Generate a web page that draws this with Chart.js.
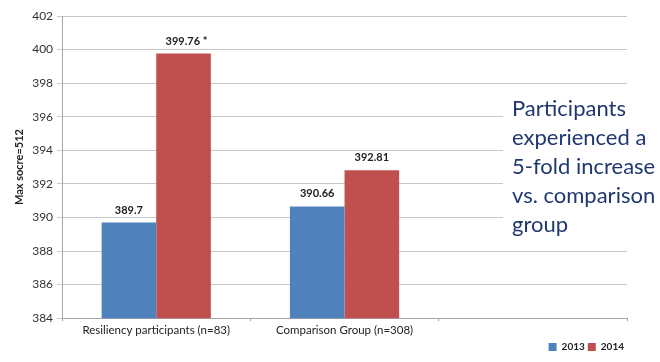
<!DOCTYPE html>
<html>
<head>
<meta charset="utf-8">
<script src="https://cdn.jsdelivr.net/npm/chart.js@4"></script>
<style>
  html, body { margin: 0; padding: 0; background: #fff; }
  #wrap { width: 660px; height: 362px; position: relative; }
</style>
</head>
<body>
<div id="wrap"><canvas id="scoreChart"></canvas></div>
<script>
// =============== DATA ===============
const categories = ['Resiliency participants (n=83)', 'Comparison Group (n=308)', ''];
const values2013 = [389.7, 390.66, null];
const values2014 = [399.76, 392.81, null];
const notes2014 = [' *', '', ''];
const seriesNames = ['2013', '2014'];
const yTicks = [384, 386, 388, 390, 392, 394, 396, 398, 400, 402];
const calloutLines = ['Participants', 'experienced a', '5-fold increase', 'vs. comparison', 'group'];

const fontFamily = "Lato, 'Open Sans', sans-serif";

// label nilai di atas bar
const barValueLabels = {
  id: 'barValueLabels',
  afterDatasetsDraw(chart) {
    const ctx = chart.ctx;
    ctx.save();
    ctx.font = 'bold 11px ' + fontFamily;
    ctx.fillStyle = '#222';
    ctx.textAlign = 'center';
    ctx.textBaseline = 'bottom';
    chart.data.datasets.forEach((ds, di) => {
      chart.getDatasetMeta(di).data.forEach((bar, i) => {
        if (ds.data[i] == null) return;
        const note = di === 1 ? notes2014[i] : '';
        ctx.fillText(String(ds.data[i]) + note, bar.x + (note ? 3 : 0), bar.y - 7);
      });
    });
    ctx.restore();
  }
};

// kotak teks di kanan (menutupi garis grid)
const calloutBox = {
  id: 'calloutBox',
  afterDraw(chart) {
    const ctx = chart.ctx;
    ctx.save();
    ctx.fillStyle = '#fff';
    ctx.fillRect(503, 90, 157, 152);
    ctx.font = '22px ' + fontFamily;
    ctx.fillStyle = '#1f3870';
    ctx.textAlign = 'left';
    ctx.textBaseline = 'middle';
    calloutLines.forEach((line, i) => ctx.fillText(line, 512, 109 + i * 29));
    ctx.restore();
  }
};

new Chart(document.getElementById('scoreChart'), {
  type: 'bar',
  data: {
    labels: categories,
    datasets: [
      { label: seriesNames[0], data: values2013, backgroundColor: '#4f81bd' },
      { label: seriesNames[1], data: values2014, backgroundColor: '#c0504d' }
    ]
  },
  options: {
    responsive: true,
    maintainAspectRatio: false,
    animation: false,
    datasets: { bar: { categoryPercentage: 0.58, barPercentage: 1.0 } },
    layout: { padding: { top: 16, right: 33, left: 11, bottom: 0 } },
    plugins: {
      tooltip: { enabled: false },
      legend: {
        position: 'bottom',
        align: 'end',
        labels: {
          boxWidth: 8, boxHeight: 8, padding: 3,
          color: '#222',
          font: { family: fontFamily, size: 10, weight: 'bold' }
        }
      }
    },
    scales: {
      x: {
        grid: { display: true, drawOnChartArea: false, tickLength: 3, color: '#a6a6a6' },
        border: { color: '#a6a6a6' },
        ticks: { color: '#222', font: { family: fontFamily, size: 11.5 }, padding: 2 }
      },
      y: {
        min: yTicks[0],
        max: yTicks[yTicks.length - 1],
        afterBuildTicks(axis) { axis.ticks = yTicks.map(v => ({ value: v })); },
        grid: { color: '#c8c8c8', tickLength: 5 },
        border: { color: '#a6a6a6' },
        ticks: { color: '#333', font: { family: fontFamily, size: 12 }, padding: 4 },
        title: {
          display: true,
          text: 'Max socre=512',
          color: '#222',
          font: { family: fontFamily, size: 11, weight: 'bold' },
          padding: 2
        }
      }
    }
  },
  plugins: [barValueLabels, calloutBox]
});
</script>
</body>
</html>
